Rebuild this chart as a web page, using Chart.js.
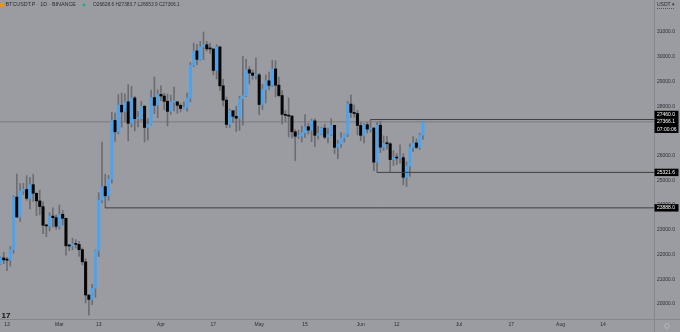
<!DOCTYPE html>
<html>
<head>
<meta charset="utf-8">
<title>BTCUSDT.P 1D</title>
<style>
html, body { margin: 0; padding: 0; background: #9b9ca2; }
#wrap { width: 680px; height: 332px; position: relative; }
</style>
</head>
<body>
<div id="wrap"><canvas id="btcChart" width="680" height="332"></canvas></div>
<script src="https://cdn.jsdelivr.net/npm/chart.js"></script>
<script>
/*********************** Daily candles, from 2023-02-11 ************************/
var firstDay = '2023-02-11';

var opens = [
    21625, 21862, 21783, 21773, 22199, 24324, 23517, 24569, 24631, 24271, 24827, 24479, 24170, 23940, 23185, 23158, 23555, 23492,
    23141, 23629, 23465, 22354, 22346, 22430, 22410, 22197, 21705, 20362, 20187, 20632, 22163, 24197, 24746, 24375, 25055, 27423, 26965, 28038, 27767, 28176, 27307, 28333, 27493, 27494, 27994, 27139, 27268, 28348, 28033,
    28478, 28411, 28199, 27790, 28168, 28175, 28033, 27906, 27948, 28333, 29653, 30235, 29892, 30399, 30485, 30318, 30315, 29445, 30397, 28822, 28245, 27262, 27816, 27590, 27514, 28308, 28423, 29474, 29340, 29248,
    29268, 28068, 28669, 29026, 28838, 29506, 28849, 28430, 27668, 27628, 27598, 26964, 26784, 26784, 26930, 27171, 27033, 27405, 26822, 26890, 27113, 26747, 26850, 27225, 26334, 26476, 26720, 26868, 28085, 27745, 27702,
    27220, 26820, 27250, 27072, 27116, 25737, 27231, 26345, 26498, 26480, 25841, 25926, 25903, 25920, 25124, 25580, 26337, 26512, 26336, 26828.6
];
var highs = [
    21906, 22090, 21891, 22319, 24380, 25250, 24873, 24877, 25192, 25121, 25250, 24480, 24599, 24132, 23219, 23689, 23888, 23600,
    24000, 23783, 23476, 22410, 22662, 22603, 22537, 22268, 21834, 20367, 20792, 22185, 24500, 26553, 25250, 25200, 27756, 27725, 28470, 28528, 28500, 28868, 28800, 28400, 27795, 28194, 28044, 27500, 28650, 29184, 28660,
    28821, 28530, 28494, 28444, 28775, 28190, 28100, 28175, 28530, 29770, 30550, 30500, 30620, 31000, 30620, 30550, 30320, 30485, 30411, 29090, 28369, 27882, 27816, 28000, 28400, 30020, 29890, 29600, 29460, 29960,
    29330, 28880, 29266, 29379, 29850, 29840, 29180, 28630, 27821, 28336, 27634, 27050, 27030, 27200, 27663, 27299, 27480, 27485, 27183, 27150, 27270, 27090, 27494, 27232, 26620, 26930, 26888, 28200, 28450, 28046, 27835,
    27350, 27300, 27340, 27460, 27130, 27350, 27400, 26800, 26780, 26530, 26200, 26090, 26440, 26080, 25750, 26480, 26770, 26680, 26900, 27383.7
];
var lows = [
    21599, 21630, 21351, 21533, 22047, 23505, 23339, 24437, 24192, 23840, 24148, 23574, 23608, 22841, 22722, 22950, 23106, 23020,
    23020, 23195, 21971, 22157, 22189, 22257, 21927, 21580, 20042, 19549, 19972, 20271, 21918, 24102, 23888, 24192, 24890, 26578, 26880, 27157, 27370, 26601, 27155, 27000, 27163, 27420, 26552, 26631, 27240, 27696, 27525,
    28220, 27856, 27200, 27662, 27805, 27711, 27766, 27884, 27800, 28171, 29600, 29675, 29854, 29880, 30229, 30129, 29270, 29100, 28633, 28010, 27125, 27140, 27340, 26970, 27020, 27235, 28380, 28900, 29090, 29088,
    27650, 27870, 28130, 28666, 28800, 28373, 28383, 27280, 27365, 26760, 26708, 25800, 26691, 26555, 26733, 26868, 26560, 26360, 26665, 26850, 26678, 26511, 26811, 26080, 25871, 26335, 26550, 26770, 27533, 27560, 26840,
    26605, 26513, 26914, 26950, 25388, 25321.6, 26121, 26210, 26260, 25350, 25600, 25640, 25700, 24820, 24757, 25160, 26160, 26282, 26252, 26653.9
];
var closes = [
    21862, 21783, 21773, 22199, 24324, 23517, 24569, 24631, 24271, 24827, 24479, 24170, 23940, 23185, 23158, 23555, 23492, 23141,
    23629, 23465, 22354, 22346, 22430, 22410, 22197, 21705, 20362, 20187, 20632, 22163, 24197, 24746, 24375, 25055, 27423, 26965, 28038, 27767, 28176, 27307, 28333, 27493, 27494, 27994, 27139, 27268, 28348, 28033, 28478,
    28411, 28199, 27790, 28168, 28175, 28033, 27906, 27948, 28333, 29653, 30235, 29892, 30399, 30485, 30318, 30315, 29445, 30397, 28822, 28245, 27262, 27816, 27590, 27514, 28308, 28423, 29474, 29340, 29248, 29268,
    28068, 28669, 29026, 28838, 29506, 28849, 28430, 27668, 27628, 27598, 26964, 26784, 26784, 26930, 27171, 27033, 27405, 26822, 26890, 27113, 26747, 26850, 27225, 26334, 26476, 26720, 26868, 28085, 27745, 27702, 27220,
    26820, 27250, 27072, 27116, 25737, 27231, 26345, 26498, 26480, 25841, 25926, 25903, 25920, 25124, 25580, 26337, 26512, 26336, 26829, 27366.1
];

// horizontal rays drawn from a candle's high / low
var rayDates  = ['2023-03-15', '2023-06-04', '2023-06-06'];
var rayPrices = [23888.0, 27460.0, 25321.6];

var lastPrice = 27366.1;
var countdown = '07:00:06';

// price scale labels
var priceTicks = [20000, 21000, 22000, 23000, 24000, 25000, 26000, 27000, 28000, 29000, 30000, 31000];

// time axis labels
var tickDates  = ['2023-02-13', '2023-03-01', '2023-03-13', '2023-04-01', '2023-04-17', '2023-05-01', '2023-05-15',
                  '2023-06-01', '2023-06-12', '2023-07-01', '2023-07-17', '2023-08-01', '2023-08-14'];
var tickLabels = ['13', 'Mar', '13', 'Apr', '17', 'May', '15', 'Jun', '12', 'Jul', '17', 'Aug', '14'];

/*********************** Helpers & styles ************************/
function dayIndex(d) {
    return Math.round((Date.parse(d) - Date.parse(firstDay)) / 864e5);
}

var FONT = "'Liberation Sans', Arial, sans-serif";
var upColor = '#4ea3ef', downColor = '#060606', wickColor = '#6c6d72';
var textColor = '#2b2c30', lineColor = '#86878c';

// visible window (in days) and price range
var xMin = -0.14, xMax = 199.55;
var yMin = 19393, yMax = 32294;

var tickIdx = tickDates.map(dayIndex);

var wickData = opens.map(function (o, i) { return { x: i, y: [lows[i], highs[i]] }; });
var bodyData = opens.map(function (o, i) { return { x: i, y: [o, closes[i]] }; });

function candleColor(ctx) {
    var i = ctx.dataIndex;
    return closes[i] >= opens[i] ? upColor : downColor;
}

var rayDatasets = rayPrices.map(function (p, k) {
    return {
        type: 'line',
        data: [{ x: dayIndex(rayDates[k]), y: p }, { x: xMax, y: p }],
        borderColor: '#3e3f44',
        borderWidth: 1,
        pointRadius: 0,
        order: 0
    };
});

/*********************** Price scale marks, legend, separators ************************/
var overlay = {
    id: 'overlay',
    afterDraw: function (chart) {
        var c = chart.ctx, ys = chart.scales.y, area = chart.chartArea;
        c.save();

        c.strokeStyle = lineColor;
        c.lineWidth = 1;
        c.beginPath();
        c.moveTo(area.right + 0.5, 0); c.lineTo(area.right + 0.5, chart.height);
        c.moveTo(0, area.bottom + 0.5); c.lineTo(chart.width, area.bottom + 0.5);
        c.stroke();

        // black price boxes on the right scale
        var lh = 7.4;
        var curY = ys.getPixelForValue(lastPrice);
        var curTop = curY - lh / 2;
        var boxes = [{ top: curTop, lines: [lastPrice.toFixed(1), countdown] }];
        rayPrices.forEach(function (p) {
            var py = ys.getPixelForValue(p), top = py - lh / 2;
            if (top + lh > curTop && top < curTop + 2 * lh) top = curTop - lh;
            boxes.push({ top: top, lines: [p.toFixed(1)] });
        });
        c.font = '5px ' + FONT;
        c.textBaseline = 'middle';
        c.textAlign = 'left';
        boxes.forEach(function (b) {
            c.fillStyle = '#000';
            c.fillRect(area.right + 0.5, b.top, 24, b.lines.length * lh);
            c.fillStyle = '#fff';
            b.lines.forEach(function (t, j) {
                c.fillText(t, area.right + 3, b.top + lh / 2 + j * lh);
            });
        });

        // currency switch on top of the scale
        c.fillStyle = textColor;
        c.fillText('USDT \u25BE', area.right + 3, 4.5);
        c.setLineDash([1, 1]);
        c.strokeStyle = '#55565b';
        c.beginPath();
        c.moveTo(area.right + 3, 8.5); c.lineTo(area.right + 21, 8.5);
        c.stroke();
        c.setLineDash([]);

        // symbol legend
        c.fillStyle = '#f0921c';
        c.beginPath(); c.arc(2, 5, 2.2, 0, Math.PI * 2); c.fill();
        c.fillStyle = textColor;
        c.font = '5.4px ' + FONT;
        c.fillText('BTCUSDT.P \u00B7 1D \u00B7 BINANCE', 5.5, 5);
        c.fillStyle = '#1faa86';
        c.beginPath(); c.arc(84, 5, 1.5, 0, Math.PI * 2); c.fill();
        var n = opens.length - 1;
        c.fillStyle = textColor;
        c.font = '4.8px ' + FONT;
        c.fillText('O' + opens[n].toFixed(1) + ' H' + highs[n].toFixed(1) + ' L' + lows[n].toFixed(1) + ' C' + closes[n].toFixed(1), 93, 5);

        // logo and settings button
        c.font = 'bold 8px ' + FONT;
        c.fillStyle = '#111';
        c.textBaseline = 'alphabetic';
        c.fillText('17', 1.5, 317.5);
        c.strokeStyle = '#b5b6ba';
        c.beginPath(); c.arc(667, 326, 2.3, 0, Math.PI * 2); c.stroke();

        c.restore();
    }
};

/*********************** Chart ************************/
var ctx = document.getElementById('btcChart').getContext('2d');

var btcChart = new Chart(ctx, {
    type: 'bar',
    data: {
        datasets: rayDatasets.concat([
            {
                type: 'line',
                data: [{ x: xMin, y: lastPrice }, { x: xMax, y: lastPrice }],
                borderColor: 'rgba(62,63,68,0.35)',
                borderWidth: 1,
                pointRadius: 0,
                order: 3
            },
            {
                data: bodyData,
                backgroundColor: candleColor,
                borderWidth: 0,
                barThickness: 2.4,
                minBarLength: 1,
                grouped: false,
                order: 1
            },
            {
                data: wickData,
                backgroundColor: wickColor,
                borderWidth: 0,
                barThickness: 1,
                grouped: false,
                order: 2
            }
        ])
    },
    options: {
        responsive: false,
        animation: false,
        events: [],
        layout: { padding: 0, autoPadding: false },
        plugins: {
            legend: { display: false },
            tooltip: { enabled: false }
        },
        scales: {
            x: {
                type: 'linear',
                min: xMin,
                max: xMax,
                offset: false,
                grid: { display: false, drawTicks: false },
                border: { display: false },
                afterBuildTicks: function (scale) {
                    scale.ticks = tickIdx.map(function (v) { return { value: v }; });
                },
                afterFit: function (scale) {
                    scale.height = 13;
                    scale.paddingLeft = scale.paddingRight = 0;
                },
                ticks: {
                    autoSkip: false,
                    maxRotation: 0,
                    padding: 3,
                    color: textColor,
                    font: { family: FONT, size: 5 },
                    callback: function (v) {
                        var k = tickIdx.indexOf(v);
                        return k >= 0 ? tickLabels[k] : '';
                    }
                }
            },
            y: {
                position: 'right',
                min: yMin,
                max: yMax,
                grid: { display: false, drawTicks: false },
                border: { display: false },
                afterBuildTicks: function (scale) {
                    scale.ticks = priceTicks.map(function (v) { return { value: v }; });
                },
                afterFit: function (scale) {
                    scale.width = 26;
                    scale.paddingTop = scale.paddingBottom = 0;
                },
                ticks: {
                    autoSkip: false,
                    padding: 3,
                    color: textColor,
                    font: { family: FONT, size: 5 },
                    callback: function (v) {
                        return v.toFixed(1);
                    }
                }
            }
        }
    },
    plugins: [overlay]
});
</script>
</body>
</html>
